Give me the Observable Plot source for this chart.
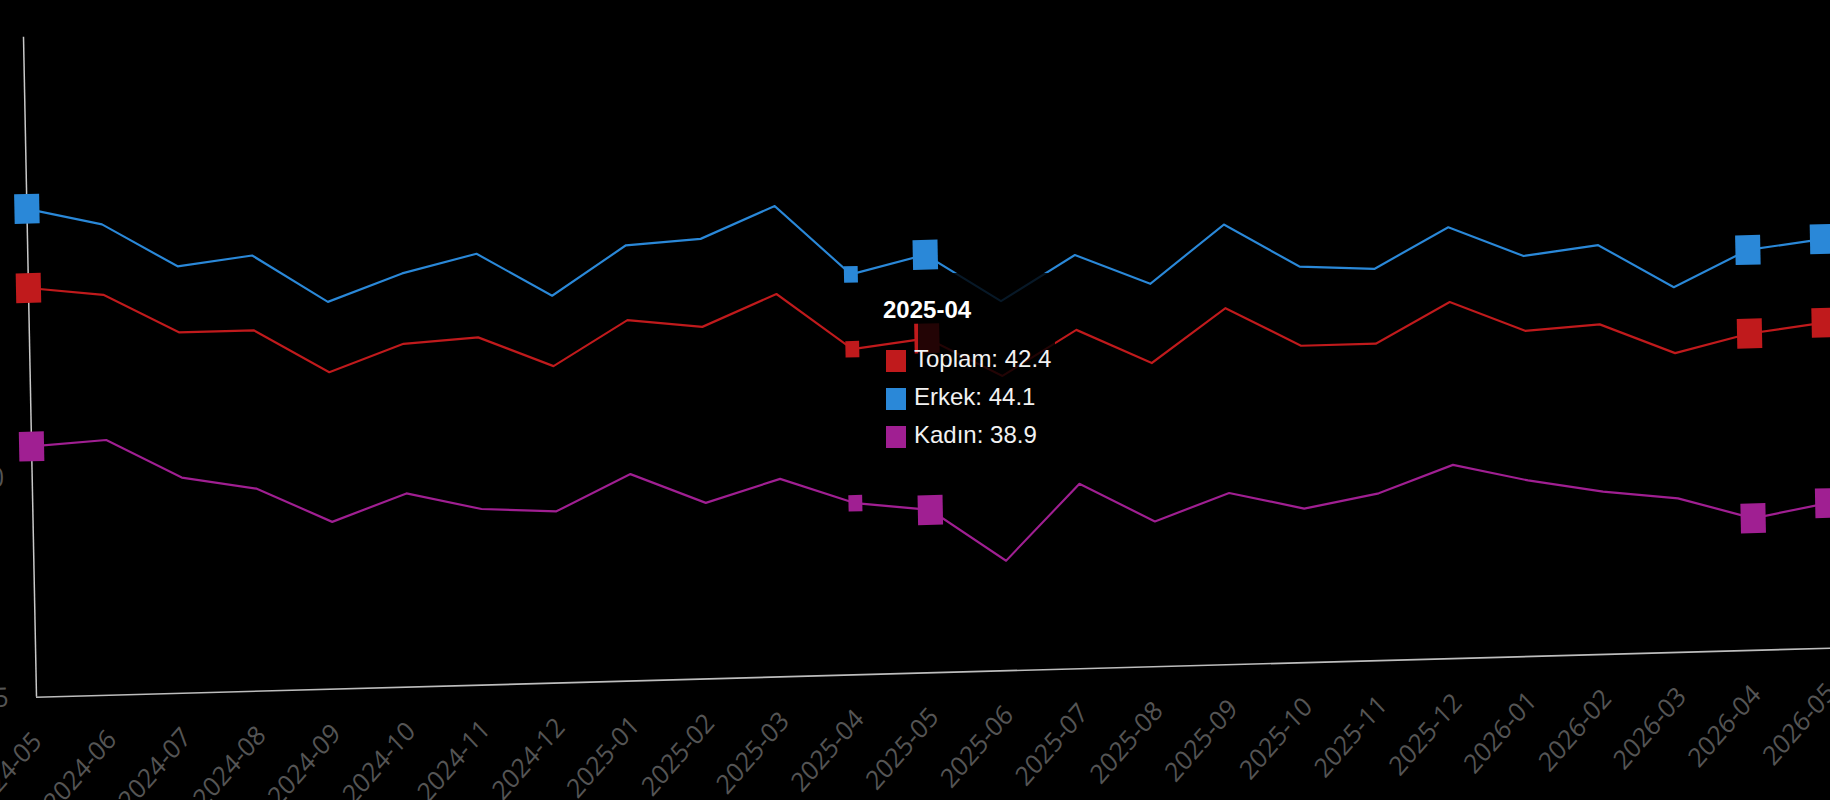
<!DOCTYPE html>
<html>
<head>
<meta charset="utf-8">
<script src="https://cdn.jsdelivr.net/npm/d3@7"></script>
<script src="https://cdn.jsdelivr.net/npm/@observablehq/plot@0.6"></script>
<style>
  html, body { margin: 0; padding: 0; background: #000; width: 1830px; height: 800px; overflow: hidden; }
  #wrap { position: relative; width: 1830px; height: 800px; overflow: hidden; background: #000; }
  #chart { position: absolute; left: 0; top: 0; width: 1900px; height: 800px; }
  #chart svg { position: absolute; left: 0; top: 0; width: 1900px !important; height: 800px !important; max-width: none !important;
    transform-origin: 0 0; transform: matrix(1, -0.02729, 0.02167, 1.1, -13.65, 4.67); overflow: visible; }
  #tipbg { position: absolute; left: 918px; top: 273px; width: 137px; height: 195px; background: rgba(0,0,0,0.82); }
  .tip { position: absolute; font-family: "Liberation Sans", Arial, sans-serif; font-size: 24px; line-height: 24px; color: #f2f2f2; white-space: nowrap; }
  .tip.title { font-weight: bold; color: #fff; }
  .sw { position: absolute; width: 20px; height: 22px; }
</style>
</head>
<body>
<div id="wrap">
  <div id="chart"></div>
  <div id="tipbg"></div>
  <div id="tip"></div>
</div>
<script>
const months = ["2024-05","2024-06","2024-07","2024-08","2024-09","2024-10","2024-11","2024-12",
  "2025-01","2025-02","2025-03","2025-04","2025-05","2025-06","2025-07","2025-08","2025-09","2025-10",
  "2025-11","2025-12","2026-01","2026-02","2026-03","2026-04","2026-05"];
const toplam = [44.3,44.1,43.2,43.2,42.2,42.8,42.9,42.2,43.2,43.0,43.7,42.4,42.6,41.7,42.7,41.9,43.1,42.2,42.2,43.1,42.4,42.5,41.8,42.2,42.4];
const erkek  = [46.1,45.7,44.7,44.9,43.8,44.4,44.8,43.8,44.9,45.0,45.7,44.1,44.5,43.4,44.4,43.7,45.0,44.0,43.9,44.8,44.1,44.3,43.3,44.1,44.3];
const kadin  = [40.7,40.8,39.9,39.6,38.8,39.4,39.0,38.9,39.7,39.0,39.5,38.9,38.7,37.5,39.2,38.3,38.9,38.5,38.8,39.4,39.0,38.7,38.5,38.0,38.3];
const seriesNames = ["Toplam", "Erkek", "Kadın"];
const seriesColors = ["#c01a1c", "#2a88d8", "#a01f92"];
const yTicks = [35, 40, 45, 50];
const bigMarkerMonths = ["2024-05", "2025-05", "2026-04", "2026-05"];
const hoverMonth = "2025-04";

const values = [toplam, erkek, kadin];
const rows = [];
seriesNames.forEach((s, k) => months.forEach((m, i) => rows.push({series: s, month: m, value: values[k][i]})));

const tallSquare = { draw(ctx, size) { const w = Math.sqrt(size); const h = w * 1.08; ctx.rect(-w / 2, -h / 2, w, h); } };

const chart = Plot.plot({
  width: 1900, height: 800,
  marginLeft: 36, marginRight: 70, marginTop: 30, marginBottom: 170,
  style: { background: "transparent", color: "#555", fontFamily: "'Open Sans', sans-serif", fontSize: "24.5px", overflow: "visible" },
  x: { type: "point", domain: months, padding: 0, round: false, label: null },
  y: { domain: [35, 50], label: null },
  color: { domain: seriesNames, range: seriesColors },
  marks: [
    Plot.axisY({ ticks: yTicks, tickSize: 0, tickPadding: 28, label: null }),
    Plot.axisX({ tickRotate: -45, tickSize: 0, tickPadding: 36, label: null }),
    Plot.ruleX([months[0]], { y1: 35, y2: 50, stroke: "#c8c8c8", strokeWidth: 1.5 }),
    Plot.ruleY([35], { stroke: "#bdbdbd", strokeWidth: 1.5 }),
    Plot.line(rows, { x: "month", y: "value", z: "series", stroke: "series", strokeWidth: 2 }),
    Plot.dot(rows.filter(d => bigMarkerMonths.includes(d.month)), { x: "month", y: "value", fill: "series", symbol: tallSquare, r: 14.1 }),
    Plot.dot(rows.filter(d => d.month === hoverMonth), { x: "month", y: "value", fill: "series", symbol: tallSquare, r: 7.8 })
  ]
});
document.getElementById("chart").appendChild(chart);

// tooltip
const tip = document.getElementById("tip");
const hi = months.indexOf(hoverMonth);
const title = document.createElement("div");
title.className = "tip title";
title.style.left = "883px"; title.style.top = "298px";
title.textContent = hoverMonth;
tip.appendChild(title);
const rowTops = [347, 385, 423];
seriesNames.forEach((s, k) => {
  const sw = document.createElement("div");
  sw.className = "sw";
  sw.style.left = "886px"; sw.style.top = (rowTops[k] + 3) + "px";
  sw.style.background = seriesColors[k];
  tip.appendChild(sw);
  const t = document.createElement("div");
  t.className = "tip";
  t.style.left = "914px"; t.style.top = rowTops[k] + "px";
  t.textContent = s + ": " + values[k][hi].toFixed(1);
  tip.appendChild(t);
});
</script>
</body>
</html>
